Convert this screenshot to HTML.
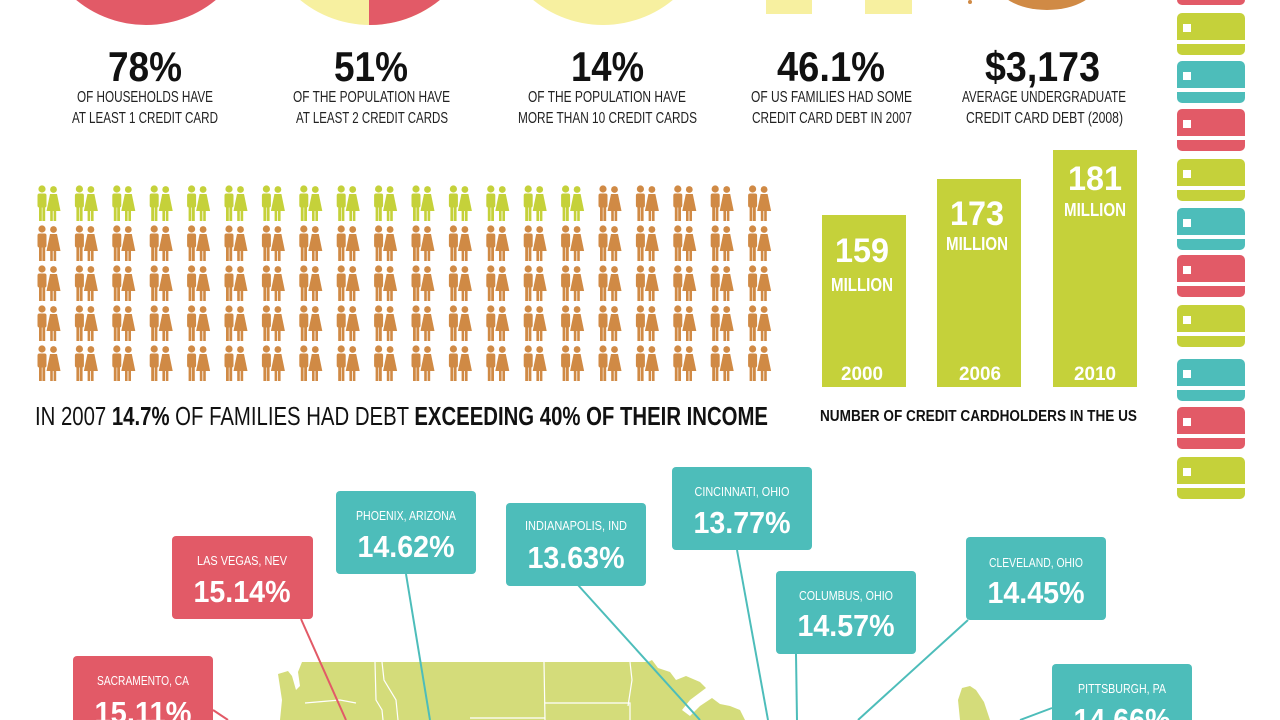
<!DOCTYPE html>
<html><head><meta charset="utf-8"><style>
html,body{margin:0;padding:0;background:#fff;width:1280px;height:720px;overflow:hidden}
svg{display:block}
text{font-family:"Liberation Sans",sans-serif}
</style></head><body>
<svg width="1280" height="720" viewBox="0 0 1280 720" xmlns="http://www.w3.org/2000/svg">
<defs>
<g id="cp">
<circle cx="6" cy="4" r="3.6"/><rect x="1.5" y="8.5" width="9" height="14" rx="2"/><rect x="3" y="20" width="2.8" height="16"/><rect x="6.4" y="20" width="2.8" height="16"/>
<circle cx="17.5" cy="4.5" r="3.4"/><path d="M14,9 L21,9 L24.5,26 L10.5,26 Z"/><rect x="14.2" y="24" width="2.6" height="12"/><rect x="17.6" y="24" width="2.6" height="12"/>
</g>
<g id="card"><path d="M0,5 a5,5 0 0 1 5,-5 h58 a5,5 0 0 1 5,5 v22 h-68z"/><path d="M0,31 h68 v6 a5,5 0 0 1 -5,5 h-58 a5,5 0 0 1 -5,-5z"/><rect x="6" y="11" width="8" height="8" fill="#fff"/></g>
</defs>

<!-- top graphics -->
<circle cx="146" cy="-85" r="110" fill="#e25a67"/>
<circle cx="370" cy="-85" r="110" fill="#f7f0a0"/>
<path d="M369,-85 L369,25 A110,110 0 0 0 480,-85 Z" fill="#e25a67"/>
<circle cx="603" cy="-85" r="110" fill="#f7f0a0"/>
<rect x="766" y="0" width="46" height="14" fill="#f7f0a0"/>
<rect x="865" y="0" width="47" height="14" fill="#f7f0a0"/>
<ellipse cx="1047" cy="-20" rx="52" ry="30" fill="#d08a45"/>
<circle cx="970" cy="2" r="2" fill="#d08a45"/>

<!-- stats -->
<g font-weight="bold" fill="#111" font-size="42" text-anchor="start">
<text x="108" y="81" textLength="74" lengthAdjust="spacingAndGlyphs">78%</text>
<text x="334" y="81" textLength="74" lengthAdjust="spacingAndGlyphs">51%</text>
<text x="571" y="81" textLength="73" lengthAdjust="spacingAndGlyphs">14%</text>
<text x="777" y="81" textLength="108" lengthAdjust="spacingAndGlyphs">46.1%</text>
<text x="985" y="81" textLength="115" lengthAdjust="spacingAndGlyphs">$3,173</text>
</g>
<g fill="#222" font-size="16">
<text x="77" y="102" textLength="136" lengthAdjust="spacingAndGlyphs">OF HOUSEHOLDS HAVE</text>
<text x="72" y="123" textLength="146" lengthAdjust="spacingAndGlyphs">AT LEAST 1 CREDIT CARD</text>
<text x="293" y="102" textLength="157" lengthAdjust="spacingAndGlyphs">OF THE POPULATION HAVE</text>
<text x="296" y="123" textLength="152" lengthAdjust="spacingAndGlyphs">AT LEAST 2 CREDIT CARDS</text>
<text x="528" y="102" textLength="158" lengthAdjust="spacingAndGlyphs">OF THE POPULATION HAVE</text>
<text x="518" y="123" textLength="179" lengthAdjust="spacingAndGlyphs">MORE THAN 10 CREDIT CARDS</text>
<text x="751" y="102" textLength="161" lengthAdjust="spacingAndGlyphs">OF US FAMILIES HAD SOME</text>
<text x="752" y="123" textLength="160" lengthAdjust="spacingAndGlyphs">CREDIT CARD DEBT IN 2007</text>
<text x="962" y="102" textLength="164" lengthAdjust="spacingAndGlyphs">AVERAGE UNDERGRADUATE</text>
<text x="966" y="123" textLength="157" lengthAdjust="spacingAndGlyphs">CREDIT CARD DEBT (2008)</text>
</g>

<!-- people grid -->
<g id="grid">
<g fill="#c5d13a">
<use href="#cp" x="36" y="185"/><use href="#cp" x="73.4" y="185"/><use href="#cp" x="110.8" y="185"/><use href="#cp" x="148.2" y="185"/><use href="#cp" x="185.6" y="185"/><use href="#cp" x="223" y="185"/><use href="#cp" x="260.4" y="185"/><use href="#cp" x="297.8" y="185"/><use href="#cp" x="335.2" y="185"/><use href="#cp" x="372.6" y="185"/><use href="#cp" x="410" y="185"/><use href="#cp" x="447.4" y="185"/><use href="#cp" x="484.8" y="185"/><use href="#cp" x="522.2" y="185"/><use href="#cp" x="559.6" y="185"/>
</g>
<g fill="#d08a45">
<use href="#cp" x="597" y="185"/><use href="#cp" x="634.4" y="185"/><use href="#cp" x="671.8" y="185"/><use href="#cp" x="709.2" y="185"/><use href="#cp" x="746.6" y="185"/>
<g id="row"><use href="#cp" x="36" y="225"/><use href="#cp" x="73.4" y="225"/><use href="#cp" x="110.8" y="225"/><use href="#cp" x="148.2" y="225"/><use href="#cp" x="185.6" y="225"/><use href="#cp" x="223" y="225"/><use href="#cp" x="260.4" y="225"/><use href="#cp" x="297.8" y="225"/><use href="#cp" x="335.2" y="225"/><use href="#cp" x="372.6" y="225"/><use href="#cp" x="410" y="225"/><use href="#cp" x="447.4" y="225"/><use href="#cp" x="484.8" y="225"/><use href="#cp" x="522.2" y="225"/><use href="#cp" x="559.6" y="225"/><use href="#cp" x="597" y="225"/><use href="#cp" x="634.4" y="225"/><use href="#cp" x="671.8" y="225"/><use href="#cp" x="709.2" y="225"/><use href="#cp" x="746.6" y="225"/></g>
<use href="#row" y="40"/><use href="#row" y="80"/><use href="#row" y="120"/>
</g>
</g>

<text x="35" y="425" font-size="26" fill="#111" textLength="733" lengthAdjust="spacingAndGlyphs">IN 2007 <tspan font-weight="bold">14.7%</tspan> OF FAMILIES HAD DEBT <tspan font-weight="bold">EXCEEDING 40% OF THEIR INCOME</tspan></text>

<!-- bars -->
<g fill="#c5d13a">
<rect x="822" y="215" width="84" height="172"/>
<rect x="937" y="179" width="84" height="208"/>
<rect x="1053" y="150" width="84" height="237"/>
</g>
<g fill="#fff" font-weight="bold" text-anchor="middle">
<text x="862" y="262" font-size="34" textLength="54" lengthAdjust="spacingAndGlyphs">159</text>
<text x="862" y="291" font-size="18" textLength="62" lengthAdjust="spacingAndGlyphs">MILLION</text>
<text x="862" y="380" font-size="19" textLength="42" lengthAdjust="spacingAndGlyphs">2000</text>
<text x="977" y="225" font-size="34" textLength="54" lengthAdjust="spacingAndGlyphs">173</text>
<text x="977" y="250" font-size="18" textLength="62" lengthAdjust="spacingAndGlyphs">MILLION</text>
<text x="980" y="380" font-size="19" textLength="42" lengthAdjust="spacingAndGlyphs">2006</text>
<text x="1095" y="190" font-size="34" textLength="54" lengthAdjust="spacingAndGlyphs">181</text>
<text x="1095" y="216" font-size="18" textLength="62" lengthAdjust="spacingAndGlyphs">MILLION</text>
<text x="1095" y="380" font-size="19" textLength="42" lengthAdjust="spacingAndGlyphs">2010</text>
</g>
<text x="820" y="421" font-size="16" font-weight="bold" fill="#111" textLength="317" lengthAdjust="spacingAndGlyphs">NUMBER OF CREDIT CARDHOLDERS IN THE US</text>

<!-- cards -->
<path d="M1177,-10 h68 v10 a5,5 0 0 1 -5,5 h-58 a5,5 0 0 1 -5,-5z" fill="#e25a67"/>
<use href="#card" x="1177" y="13" fill="#c5d13a"/>
<use href="#card" x="1177" y="61" fill="#4dbdba"/>
<use href="#card" x="1177" y="109" fill="#e25a67"/>
<use href="#card" x="1177" y="159" fill="#c5d13a"/>
<use href="#card" x="1177" y="208" fill="#4dbdba"/>
<use href="#card" x="1177" y="255" fill="#e25a67"/>
<use href="#card" x="1177" y="305" fill="#c5d13a"/>
<use href="#card" x="1177" y="359" fill="#4dbdba"/>
<use href="#card" x="1177" y="407" fill="#e25a67"/>
<use href="#card" x="1177" y="457" fill="#c5d13a"/>

<!-- map -->
<path d="M278,674 L288,671 L292,676 L296,690 L300,686 L298,672 L302,662 L465,662 L600,662 L648,662 L652,660 L658,668 L670,672 L676,680 L686,676 L700,682 L706,688 L690,700 L682,710 L690,716 L700,706 L712,698 L720,704 L730,706 L740,710 L745,720 L280,720 L282,700 Z" fill="#d4dc7a"/>
<path d="M960,720 L958,700 L962,688 L970,686 L976,690 L984,702 L990,720 Z" fill="#d4dc7a"/>
<g stroke="#fff" stroke-width="1.2" fill="none">
<path d="M305,703 L340,700 L356,703"/><path d="M375,662 L376,700 L382,710 L383,720"/><path d="M382,662 L384,680 L396,700 L398,720"/>
<path d="M544,662 L545,720"/><path d="M545,703 L630,703 L630,720"/><path d="M630,662 L632,680 L628,706"/><path d="M470,718 L545,718"/>
</g>

<!-- leader lines -->
<g stroke-width="2" fill="none">
<line x1="301" y1="619" x2="346" y2="720" stroke="#e25a67"/>
<line x1="213" y1="710" x2="228" y2="720" stroke="#e25a67"/>
<g stroke="#4dbdba">
<line x1="406" y1="574" x2="430" y2="720"/>
<line x1="578" y1="585" x2="700" y2="720"/>
<line x1="737" y1="550" x2="768" y2="720"/>
<line x1="796" y1="654" x2="797" y2="720"/>
<line x1="968" y1="620" x2="858" y2="720"/>
<line x1="1052" y1="708" x2="1020" y2="720"/>
</g>
</g>

<!-- callouts -->
<g>
<rect x="172" y="536" width="141" height="83" rx="4" fill="#e25a67"/>
<rect x="73" y="656" width="140" height="80" rx="4" fill="#e25a67"/>
<rect x="336" y="491" width="140" height="83" rx="4" fill="#4dbdba"/>
<rect x="506" y="503" width="140" height="83" rx="4" fill="#4dbdba"/>
<rect x="672" y="467" width="140" height="83" rx="4" fill="#4dbdba"/>
<rect x="776" y="571" width="140" height="83" rx="4" fill="#4dbdba"/>
<rect x="966" y="537" width="140" height="83" rx="4" fill="#4dbdba"/>
<rect x="1052" y="664" width="140" height="80" rx="4" fill="#4dbdba"/>
</g>
<g fill="#fff" text-anchor="middle">
<g font-size="13">
<text x="242" y="565" textLength="90" lengthAdjust="spacingAndGlyphs">LAS VEGAS, NEV</text>
<text x="143" y="685" textLength="92" lengthAdjust="spacingAndGlyphs">SACRAMENTO, CA</text>
<text x="406" y="520" textLength="100" lengthAdjust="spacingAndGlyphs">PHOENIX, ARIZONA</text>
<text x="576" y="530" textLength="102" lengthAdjust="spacingAndGlyphs">INDIANAPOLIS, IND</text>
<text x="742" y="496" textLength="95" lengthAdjust="spacingAndGlyphs">CINCINNATI, OHIO</text>
<text x="846" y="600" textLength="94" lengthAdjust="spacingAndGlyphs">COLUMBUS, OHIO</text>
<text x="1036" y="567" textLength="94" lengthAdjust="spacingAndGlyphs">CLEVELAND, OHIO</text>
<text x="1122" y="693" textLength="88" lengthAdjust="spacingAndGlyphs">PITTSBURGH, PA</text>
</g>
<g font-size="31" font-weight="bold">
<text x="242" y="602" textLength="97" lengthAdjust="spacingAndGlyphs">15.14%</text>
<text x="143" y="723" textLength="97" lengthAdjust="spacingAndGlyphs">15.11%</text>
<text x="406" y="557" textLength="97" lengthAdjust="spacingAndGlyphs">14.62%</text>
<text x="576" y="568" textLength="97" lengthAdjust="spacingAndGlyphs">13.63%</text>
<text x="742" y="533" textLength="97" lengthAdjust="spacingAndGlyphs">13.77%</text>
<text x="846" y="636" textLength="97" lengthAdjust="spacingAndGlyphs">14.57%</text>
<text x="1036" y="603" textLength="97" lengthAdjust="spacingAndGlyphs">14.45%</text>
<text x="1122" y="730" textLength="97" lengthAdjust="spacingAndGlyphs">14.66%</text>
</g>
</g>
</svg>
</body></html>
